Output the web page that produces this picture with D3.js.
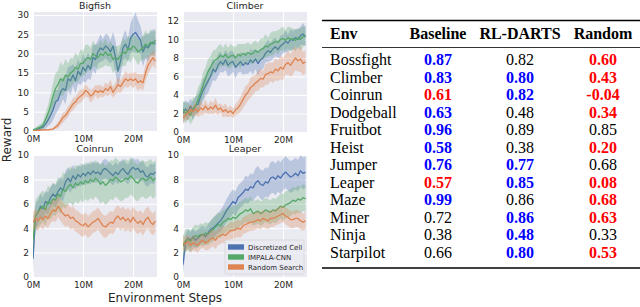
<!DOCTYPE html>
<html><head><meta charset="utf-8">
<script src="https://cdn.jsdelivr.net/npm/d3@7"></script>
<style>body{margin:0;background:#fff;} svg{display:block}</style>
</head><body><svg id="c" width="640" height="307"></svg>
<script>
// ---------- DATA ----------
const steps = [0,0.5,1,1.5,2,2.5,3,3.5,4,4.5,5,5.5,6,6.5,7,7.5,8,8.5,9,9.5,
  10,10.5,11,11.5,12,12.5,13,13.5,14,14.5,15,15.5,16,16.5,17,17.5,18,18.5,19,19.5,
  20,20.5,21,21.5,22,22.5,23,23.5,24,24.5]; // millions of environment steps
const xTickValues = [0,10,20];
const seriesNames = ["Discretized Cell","IMPALA-CNN","Random Search"];

const bigfishCell = [0.2,0.3,0.5,0.8,1.0,1.8,2.8,4.0,5.5,7.5, 8.0,10.0,11.0,10.5,13.5,13.0,14.5,13.0,15.5,14.5,
  16.5,15.5,17.0,16.0,19.0,18.5,20.5,21.5,21.0,22.0, 21.5,20.5,22.0,19.0,15.5,18.0,21.5,22.5,21.0,24.0,
  25.0,25.5,24.5,23.5,20.5,22.0,21.5,22.5,23.0,22.5];
const bigfishCellSpread = [0.2,0.3,0.4,0.6,0.8,1.2,1.6,2.2,2.8,3.2, 2.6,3.4,2.8,3.6,3.0,3.8,2.8,3.4,3.2,2.6,
  3.6,3.0,3.4,2.8,3.2,3.8,3.0,3.6,2.8,3.2, 3.4,3.0,3.6,4.2,4.0,3.8,3.2,3.6,3.0,3.8,
  4.5,5.2,4.2,3.6,3.8,3.2,3.6,3.0,3.4,3.2];
const bigfishImpala = [0.3,0.5,0.8,1.0,1.5,3.0,4.5,6.5,9.0,11.0, 12.0,13.5,13.0,14.5,14.0,15.0,15.5,16.5,16.0,17.5,
  17.5,18.5,19.0,18.5,20.0,19.5,19.0,20.0,19.5,20.5, 19.5,20.0,18.5,19.0,18.5,19.5,20.5,20.0,21.5,21.0,
  22.0,21.5,20.5,21.0,21.5,22.5,22.0,23.0,22.5,23.5];
const bigfishImpalaSpread = [0.3,0.4,0.6,0.8,1.0,1.6,2.2,2.8,3.4,4.0, 3.6,4.4,3.8,4.2,3.4,3.8,3.2,3.8,3.4,3.6,
  3.2,3.8,3.4,3.0,3.4,2.8,3.2,3.6,3.0,3.4, 2.8,3.2,3.6,3.0,3.4,3.0,3.6,3.2,3.0,3.4,
  2.8,3.2,3.4,2.8,3.2,3.6,3.0,3.4,3.0,3.2];
const bigfishRandom = [0.1,0.1,0.2,0.2,0.3,0.3,0.3,0.4,0.5,1.0, 1.5,2.5,3.5,4.0,5.0,6.0,7.0,7.5,8.5,9.0,
  9.5,10.5,10.0,9.0,9.5,10.5,10.0,10.5,10.0,11.0, 10.5,11.5,10.0,11.0,12.0,11.5,12.5,13.5,13.0,13.5,
  13.0,13.5,12.5,13.0,12.5,15.0,17.0,18.0,19.0,18.0];
const bigfishRandomSpread = [0.1,0.1,0.1,0.1,0.2,0.2,0.2,0.2,0.3,0.5, 0.8,1.0,1.3,1.1,1.4,1.2,1.6,1.3,1.5,1.7,
  1.4,1.6,1.3,1.7,1.5,1.4,1.8,1.5,1.3,1.6, 1.5,1.8,1.4,1.6,1.9,1.7,1.6,2.0,1.8,1.6,
  2.0,1.8,2.2,1.9,2.1,2.0,2.3,2.0,1.9,2.1];

const climberCell = [2.0,2.5,2.2,2.8,2.3,2.9,3.0,3.8,4.5,5.0, 5.5,6.0,6.8,6.5,7.2,7.6,7.3,7.8,7.2,7.5,
  7.6,7.0,7.3,7.6,7.2,7.5,7.3,7.8,7.5,7.9, 7.4,7.8,8.0,8.5,8.8,8.6,9.0,9.2,8.9,9.3,
  9.5,9.8,9.6,10.0,9.9,10.2,10.0,10.4,10.6,10.3];
const climberCellSpread = [1.1,0.9,1.0,0.8,1.0,0.9,1.1,1.0,1.2,1.1, 1.3,1.1,1.2,1.0,1.2,1.1,0.9,1.1,1.2,1.3,
  1.1,1.2,0.9,1.1,1.0,1.2,1.0,1.2,1.3,1.1, 1.3,1.1,1.2,1.0,1.2,0.9,1.1,1.0,0.9,1.1,
  1.0,1.2,0.9,1.1,1.0,0.9,1.1,1.0,1.2,1.0];
const climberImpala = [2.5,2.0,2.3,1.8,2.5,2.8,3.5,4.2,5.0,5.8, 6.5,7.0,7.5,7.8,8.0,8.3,8.1,8.4,8.0,8.2,
  8.3,8.0,8.4,8.2,8.5,8.3,8.6,8.4,8.5,8.8, 8.6,8.9,9.0,9.3,9.2,9.5,9.6,9.8,9.7,10.0,
  10.1,9.9,10.2,10.0,10.1,9.9,10.2,10.0,10.3,10.4];
const climberImpalaSpread = [0.9,1.1,0.9,1.0,1.2,1.0,1.3,1.1,1.4,1.2, 1.4,1.2,1.3,1.1,1.3,1.2,1.0,1.2,1.1,1.3,
  1.0,1.2,1.1,1.3,1.0,1.2,1.1,1.0,1.2,1.1, 1.0,1.2,1.1,1.3,1.0,1.2,1.3,1.1,1.3,1.2,
  1.3,1.1,1.2,1.3,1.1,1.2,1.0,1.2,1.1,1.0];
const climberRandom = [1.5,1.8,2.0,2.4,2.2,2.5,2.2,2.6,2.4,2.8, 2.4,2.7,2.5,2.9,2.4,2.6,2.2,2.4,2.1,2.3,
  2.0,2.4,2.6,3.0,3.5,4.0,4.3,4.8,5.0,5.3, 5.5,5.8,5.7,6.2,6.3,6.5,6.4,6.8,6.6,7.0,
  6.8,7.3,7.5,7.2,7.6,8.0,7.7,7.9,7.4,7.6];
const climberRandomSpread = [0.6,0.5,0.7,0.6,0.5,0.7,0.6,0.8,0.6,0.7, 0.5,0.7,0.6,0.8,0.6,0.5,0.6,0.7,0.5,0.6,
  0.5,0.6,0.7,0.8,0.9,1.0,0.9,1.1,1.0,0.9, 1.1,1.0,0.9,1.1,1.2,1.0,1.1,1.2,1.1,1.3,
  1.2,1.1,1.3,1.2,1.4,1.3,1.2,1.4,1.3,1.2];

const coinrunCell = [1.5,5.0,5.3,5.8,5.6,6.2,6.0,6.5,6.8,6.6, 7.0,7.3,7.1,7.8,8.1,7.8,8.3,8.0,8.4,8.2,
  8.5,8.3,8.6,8.4,8.7,8.5,8.6,8.4,8.8,8.9, 8.7,8.5,8.3,8.6,8.4,8.7,8.9,8.6,8.4,8.8,
  9.0,8.8,8.9,8.6,8.7,8.3,8.2,8.5,8.4,8.6];
const coinrunCellSpread = [1.2,1.0,1.0,1.0,0.9,0.9,0.9,0.9,0.9,0.9, 0.9,0.9,0.9,0.9,0.9,0.9,0.9,0.8,0.8,0.8,
  0.8,0.8,0.8,0.8,0.8,0.8,0.8,0.8,0.8,0.8, 0.8,0.8,0.8,0.8,0.8,0.8,0.8,0.8,0.8,0.8,
  0.8,0.8,0.8,0.8,0.8,0.8,0.8,0.8,0.8,0.8];
const coinrunImpala = [3.0,5.0,5.3,5.6,5.8,5.5,6.2,6.0,6.4,6.3, 6.8,6.6,7.2,7.0,7.4,7.6,7.3,7.7,7.5,7.8,
  7.6,7.9,7.7,8.0,7.8,8.1,7.9,7.6,7.8,7.5, 7.7,8.0,7.9,8.2,8.0,7.8,7.9,8.1,8.0,8.3,
  8.1,7.8,7.7,8.0,8.1,7.9,8.0,8.2,7.9,8.1];
const coinrunImpalaSpread = [1.5,1.3,1.3,1.3,1.3,1.3,1.3,1.3,1.3,1.3, 1.4,1.4,1.4,1.4,1.4,1.5,1.5,1.5,1.5,1.5,
  1.5,1.5,1.5,1.5,1.5,1.5,1.5,1.6,1.6,1.6, 1.6,1.6,1.6,1.6,1.6,1.6,1.6,1.6,1.5,1.5,
  1.5,1.5,1.5,1.5,1.5,1.5,1.5,1.5,1.5,1.5];
const coinrunRandom = [4.5,4.8,4.6,4.9,4.7,5.0,4.8,5.2,5.5,5.4, 5.8,5.5,5.2,5.0,5.1,4.8,4.9,4.6,4.5,4.3,
  4.2,4.4,4.1,4.3,4.5,4.6,4.8,4.5,4.2,4.1, 4.3,4.5,4.4,4.8,5.0,4.7,4.9,4.6,4.8,4.5,
  4.9,4.6,4.4,4.6,4.3,4.7,4.9,4.5,4.3,4.6];
const coinrunRandomSpread = [0.8,0.8,0.8,0.8,0.8,0.8,0.8,0.8,0.9,0.9, 0.9,0.9,0.9,0.9,0.9,0.9,0.9,0.9,0.9,0.9,
  0.9,0.9,0.9,0.9,0.9,0.9,0.9,0.9,0.9,0.9, 0.9,0.9,0.9,0.9,0.9,0.9,0.9,0.9,0.9,0.9,
  0.9,0.9,0.9,0.9,0.9,0.9,0.9,0.9,0.9,0.9];

const leaperCell = [1.0,2.8,3.2,3.0,3.3,3.0,3.2,3.4,3.5,3.3, 3.6,3.9,4.0,4.2,4.4,4.6,4.9,5.3,5.6,5.9,
  6.2,6.0,6.5,6.7,6.9,7.2,7.1,7.4,7.3,7.7, 7.9,7.6,7.5,7.8,7.7,8.1,8.2,8.0,8.3,8.1,
  8.4,8.6,8.4,8.2,8.3,8.5,8.3,8.7,8.5,8.6];
const leaperCellSpread = [0.8,0.7,0.7,0.7,0.7,0.7,0.7,0.7,0.7,0.7, 0.7,0.7,0.8,0.8,0.8,0.9,0.9,0.9,1.0,1.0,
  1.0,1.0,1.0,1.0,1.0,1.1,1.1,1.1,1.1,1.2, 1.2,1.2,1.2,1.2,1.2,1.3,1.3,1.3,1.3,1.3,
  1.3,1.3,1.3,1.3,1.3,1.3,1.3,1.3,1.3,1.3];
const leaperImpala = [2.5,3.0,3.1,2.9,3.2,3.4,3.3,3.5,3.4,3.6, 3.5,3.7,3.9,4.1,4.3,4.2,4.5,4.6,4.8,4.7,
  4.9,4.8,5.0,5.2,5.3,5.5,5.4,5.6,5.2,5.3, 5.4,5.2,5.3,5.5,5.4,5.3,5.5,5.4,5.6,5.8,
  5.7,5.9,6.0,6.1,6.3,6.2,6.4,6.3,6.5,6.4];
const leaperImpalaSpread = [0.9,0.9,0.9,0.9,0.9,0.9,0.9,0.9,0.9,0.9, 0.9,0.9,1.0,1.0,1.0,1.0,1.0,1.0,1.0,1.0,
  1.0,1.0,1.0,1.0,1.0,1.0,1.0,1.0,1.0,1.0, 1.0,1.0,1.0,1.0,1.0,1.0,1.0,1.0,1.0,1.0,
  1.1,1.1,1.1,1.1,1.1,1.1,1.1,1.1,1.1,1.1];
const leaperRandom = [2.8,2.7,2.9,2.6,2.8,2.7,2.6,2.9,3.0,2.8, 2.9,3.1,3.2,3.0,3.3,3.4,3.5,3.4,3.6,3.8,
  3.8,3.9,4.0,3.9,4.2,4.3,4.4,4.5,4.5,4.6, 4.7,4.6,4.8,4.7,4.6,4.8,4.8,4.9,5.0,5.1,
  5.2,5.0,4.9,4.7,4.7,4.8,4.8,4.6,4.5,4.6];
const leaperRandomSpread = [0.6,0.6,0.6,0.6,0.6,0.6,0.6,0.6,0.6,0.6, 0.7,0.7,0.7,0.7,0.7,0.7,0.7,0.7,0.7,0.7,
  0.7,0.7,0.7,0.7,0.7,0.7,0.7,0.7,0.7,0.7, 0.7,0.7,0.7,0.7,0.7,0.7,0.7,0.7,0.7,0.7,
  0.7,0.7,0.7,0.7,0.7,0.7,0.7,0.7,0.7,0.7];

const bigfishYTicks = [0,5,10,15,20,25,30];
const climberYTicks = [0,2,4,6,8,10,12];
const coinrunYTicks = [0,2,4,6,8,10];
const leaperYTicks = [0,2,4,6,8,10];

// table
const tableHeaders = ["Env","Baseline","RL-DARTS","Random"];
const envs = ["Bossfight","Climber","Coinrun","Dodgeball","Fruitbot","Heist","Jumper","Leaper","Maze","Miner","Ninja","Starpilot"];
const baselineVals = ["0.87","0.83","0.61","0.63","0.96","0.58","0.76","0.57","0.99","0.72","0.38","0.66"];
const rldartsVals  = ["0.82","0.80","0.82","0.48","0.89","0.38","0.77","0.85","0.86","0.86","0.48","0.80"];
const randomVals   = ["0.60","0.43","-0.04","0.34","0.85","0.20","0.68","0.08","0.68","0.63","0.33","0.53"];
// highlight marks: b = best (blue), r = worst (red), n = none
const baselineMark = ["b","b","r","b","b","b","b","r","b","n","n","n"];
const rldartsMark  = ["n","b","b","n","n","n","b","b","n","b","b","b"];
const randomMark   = ["r","r","r","r","n","r","n","r","r","r","n","r"];

// ---------- DRAW ----------
const svg = d3.select("#c");
const colors = ["#4c72b0","#55a868","#dd8452"];
const textCol = "#262626";
const sansFont = "DejaVu Sans, sans-serif";

const panels = [
  {title:"Bigfish", x0:33, x1:157, y0:12, y1:131, yMax:30.8, yTicks:bigfishYTicks,
   series:[[bigfishCell,bigfishCellSpread],[bigfishImpala,bigfishImpalaSpread],[bigfishRandom,bigfishRandomSpread]]},
  {title:"Climber", x0:183, x1:307, y0:12, y1:132, yMax:12.97, yTicks:climberYTicks,
   series:[[climberCell,climberCellSpread],[climberImpala,climberImpalaSpread],[climberRandom,climberRandomSpread]]},
  {title:"Coinrun", x0:33, x1:157, y0:155, y1:277, yMax:10, yTicks:coinrunYTicks,
   series:[[coinrunCell,coinrunCellSpread],[coinrunImpala,coinrunImpalaSpread],[coinrunRandom,coinrunRandomSpread]]},
  {title:"Leaper", x0:183, x1:307, y0:155, y1:277, yMax:10, yTicks:leaperYTicks, legend:true,
   series:[[leaperCell,leaperCellSpread],[leaperImpala,leaperImpalaSpread],[leaperRandom,leaperRandomSpread]]}
];

panels.forEach((p, pi) => {
  const x = d3.scaleLinear().domain([0, 24.8]).range([p.x0, p.x1]);
  const y = d3.scaleLinear().domain([0, p.yMax]).range([p.y1, p.y0]);
  const g = svg.append("g");
  g.append("rect").attr("x", p.x0).attr("y", p.y0).attr("width", p.x1 - p.x0).attr("height", p.y1 - p.y0).attr("fill", "#eaeaf2");

  const yAxis = d3.axisLeft(y).tickValues(p.yTicks).tickSize(-(p.x1 - p.x0)).tickPadding(4).tickFormat(d3.format("d"));
  const gy = g.append("g").attr("transform", `translate(${p.x0},0)`).call(yAxis);
  const xAxis = d3.axisBottom(x).tickValues(xTickValues).tickSize(-(p.y1 - p.y0)).tickPadding(4.5).tickFormat(d => d + "M");
  const gx = g.append("g").attr("transform", `translate(0,${p.y1})`).call(xAxis);
  [gx, gy].forEach(a => {
    a.select(".domain").remove();
    a.selectAll("line").attr("stroke", "#fff").attr("stroke-width", 1);
    a.selectAll("text").attr("fill", textCol).style("font-family", sansFont).style("font-size", "9px");
  });

  const clipId = "clip" + pi;
  svg.append("clipPath").attr("id", clipId).append("rect")
    .attr("x", p.x0).attr("y", p.y0).attr("width", p.x1 - p.x0).attr("height", p.y1 - p.y0);
  const dg = g.append("g").attr("clip-path", `url(#${clipId})`);
  p.series.forEach(([vals, spread], si) => {
    const area = d3.area().x((d, i) => x(steps[i])).y0((d, i) => y(d - spread[i])).y1((d, i) => y(d + spread[i]));
    const line = d3.line().x((d, i) => x(steps[i])).y(d => y(d));
    dg.append("path").attr("d", area(vals)).attr("fill", colors[si]).attr("fill-opacity", 0.3);
    dg.append("path").attr("d", line(vals)).attr("fill", "none").attr("stroke", colors[si]).attr("stroke-width", 1.3).attr("stroke-linejoin", "round");
  });

  g.append("text").attr("x", (p.x0 + p.x1) / 2).attr("y", p.y0 - 3).attr("text-anchor", "middle")
    .attr("fill", textCol).style("font-family", sansFont).style("font-size", "9.5px").text(p.title);

  if (p.legend) {
    const lx = 225, ly = 240;
    g.append("rect").attr("x", lx).attr("y", ly).attr("width", 79).attr("height", 34).attr("rx", 1.5)
      .attr("fill", "#eaeaf2").attr("fill-opacity", 0.85).attr("stroke", "#d5d5d5").attr("stroke-width", 0.8);
    seriesNames.forEach((n, i) => {
      const cy = ly + 7 + i * 10;
      g.append("rect").attr("x", lx + 3).attr("y", cy - 2.7).attr("width", 16).attr("height", 5.4).attr("fill", colors[i]);
      g.append("text").attr("x", lx + 23).attr("y", cy + 2.5).attr("fill", textCol)
        .style("font-family", sansFont).style("font-size", "7px").text(n);
    });
  }
});

svg.append("text").attr("transform", "translate(11,140) rotate(-90)").attr("text-anchor", "middle")
  .attr("fill", textCol).style("font-family", sansFont).style("font-size", "12px").text("Reward");
svg.append("text").attr("x", 165).attr("y", 302).attr("text-anchor", "middle")
  .attr("fill", textCol).style("font-family", sansFont).style("font-size", "12px").text("Environment Steps");

// ---------- TABLE ----------
const serif = "Liberation Serif, Times New Roman, serif";
const colX = [330, 438, 520, 603];
const colAnchor = ["start","middle","middle","middle"];
const rowY = d3.scaleLinear().domain([0, 11]).range([65, 257.5]);
const tg = svg.append("g");
tg.append("line").attr("x1", 322).attr("x2", 640).attr("y1", 20.5).attr("y2", 20.5).attr("stroke", "#000").attr("stroke-width", 1.4);
tg.append("line").attr("x1", 322).attr("x2", 640).attr("y1", 47.5).attr("y2", 47.5).attr("stroke", "#000").attr("stroke-width", 0.8);
tg.append("line").attr("x1", 322).attr("x2", 640).attr("y1", 268).attr("y2", 268).attr("stroke", "#000").attr("stroke-width", 1.4);

tg.selectAll("text.h").data(tableHeaders).join("text").attr("class", "h")
  .attr("x", (d, i) => colX[i]).attr("y", 39).attr("text-anchor", (d, i) => colAnchor[i])
  .style("font-family", serif).style("font-size", "16px").style("font-weight", "bold").attr("fill", "#000").text(d => d);

const markColor = m => m === "b" ? "#0000ff" : m === "r" ? "#ff0000" : "#000";
tg.selectAll("text.env").data(envs).join("text").attr("class", "env")
  .attr("x", colX[0]).attr("y", (d, i) => rowY(i))
  .style("font-family", serif).style("font-size", "16px").attr("fill", "#000").text(d => d);
[[baselineVals, baselineMark], [rldartsVals, rldartsMark], [randomVals, randomMark]].forEach(([vals, marks], ci) => {
  tg.selectAll("text.c" + ci).data(vals).join("text").attr("class", "c" + ci)
    .attr("x", colX[ci + 1]).attr("y", (d, i) => rowY(i)).attr("text-anchor", "middle")
    .style("font-family", serif).style("font-size", "16px")
    .style("font-weight", (d, i) => marks[i] === "n" ? "normal" : "bold")
    .attr("fill", (d, i) => markColor(marks[i])).text(d => d);
});
</script></body></html>
